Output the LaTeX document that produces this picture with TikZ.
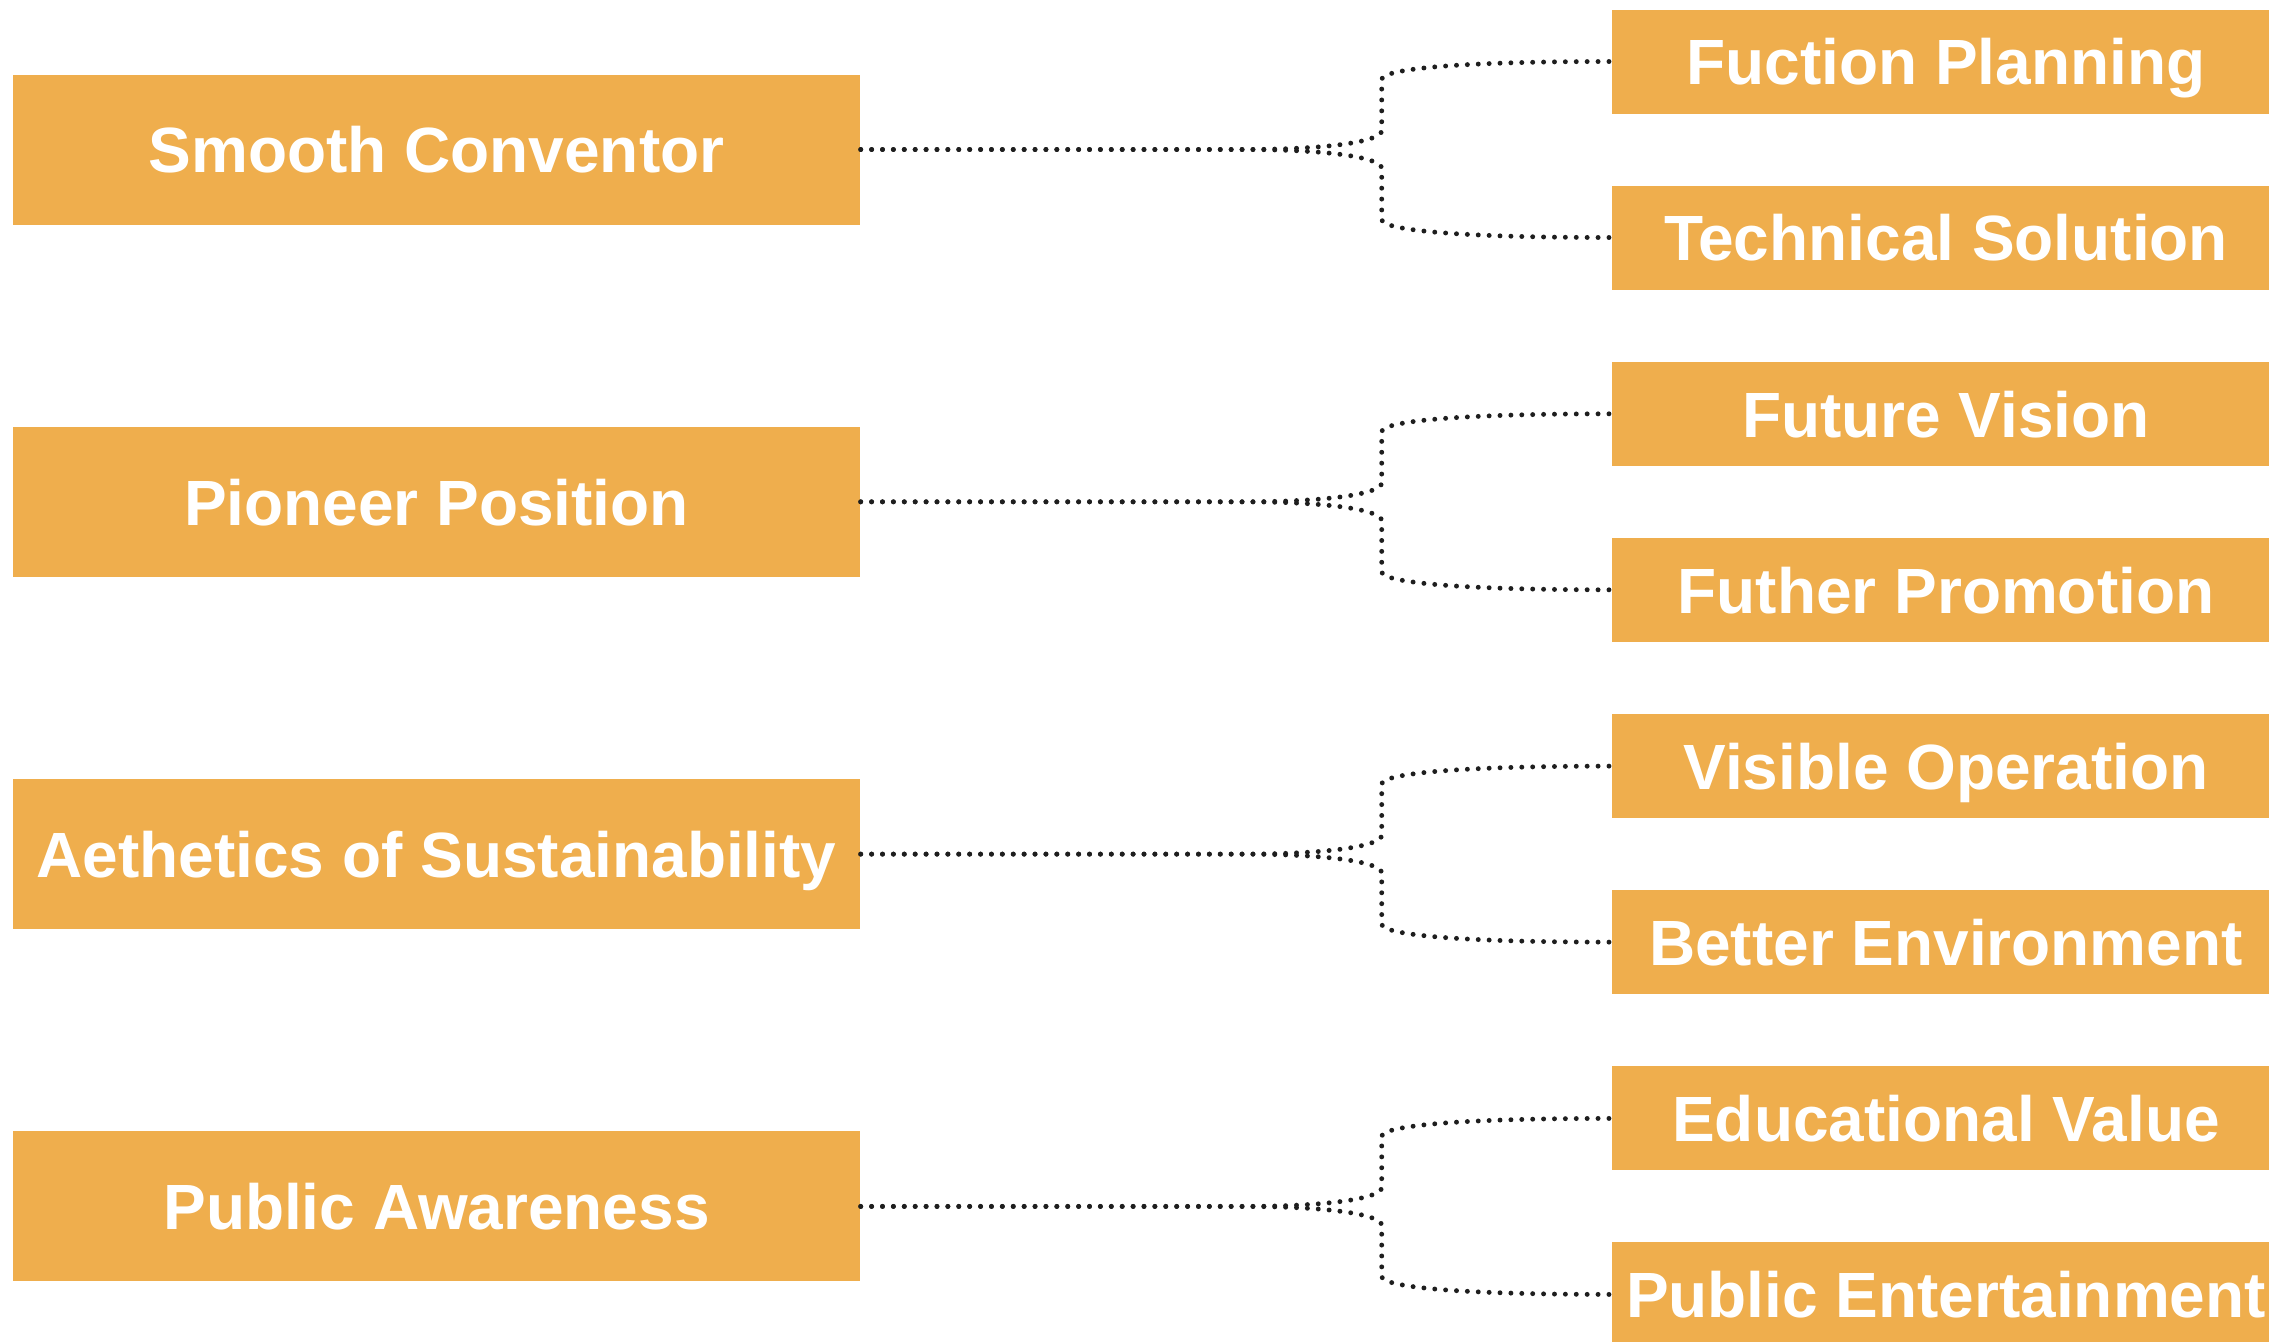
\documentclass[tikz,border=0pt]{standalone}
\usepackage{fontspec}
\setmainfont{Liberation Sans}
\usetikzlibrary{calc}
\definecolor{boxorange}{RGB}{239,174,77}
\definecolor{dotgray}{RGB}{30,30,30}

\begin{document}
\begin{tikzpicture}[every node/.style={font=\fontsize{18.2}{20}\selectfont\bfseries, text=white, text height=0.465cm, text depth=0pt},
	mainbox/.style={fill=boxorange, minimum width=8.47cm, minimum height=1.50cm, inner sep=0pt},
	subbox/.style={fill=boxorange, minimum width=6.68cm, minimum height=1.04cm, inner sep=0pt},
	link/.style={draw=dotgray, line width=1.4pt, line cap=round, dash pattern=on 0pt off 3.1pt}]
	\useasboundingbox (0,0) rectangle (22.69,-13.41);
	% main topics
	\foreach \n/\t [count=\i] in {conv/Smooth Conventor, pion/Pioneer Position, aest/Aethetics of Sustainability, publ/Public Awareness}
		\node[mainbox] (\n) at (4.365,{-1.495-(\i-1)*3.523}) {\t};
	% two sub-topics for each, joined by a split dotted line
	\foreach \m/\u/\ut/\d/\dt in {conv/func/Fuction Planning/tech/Technical Solution, pion/futu/Future Vision/furt/Futher Promotion, aest/visi/Visible Operation/bett/Better Environment, publ/educ/Educational Value/ente/Public Entertainment}{
		\node[subbox] (\u) at ($(\m.center)+(15.095,0.88)$) {\ut};
		\node[subbox] (\d) at ($(\m.center)+(15.095,-0.88)$) {\dt};
		\draw[link] (\m.east) -- ++(3.8,0) .. controls +(0.95,0) and +(0,-0.10) .. ++(1.41,0.19) -- ++(0,0.51) .. controls +(0,0.10) and +(-1.6,0) .. (\u.west);
		\draw[link] (\m.east) -- ++(3.8,0) .. controls +(0.95,0) and +(0,0.10) .. ++(1.41,-0.19) -- ++(0,-0.51) .. controls +(0,-0.10) and +(-1.6,0) .. (\d.west);
	}
\end{tikzpicture}
\end{document}
